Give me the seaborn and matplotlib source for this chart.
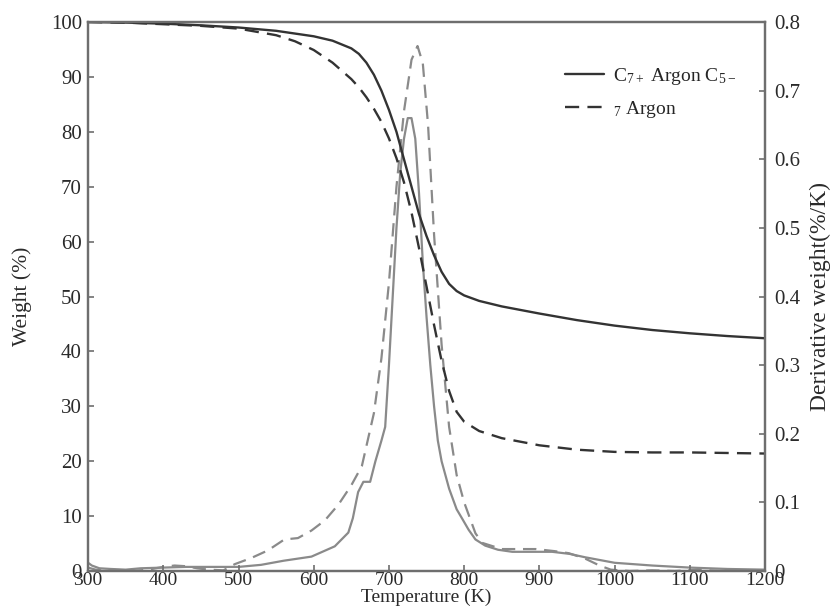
import numpy as np
import pandas as pd
import matplotlib
matplotlib.use("Agg")
import matplotlib.pyplot as plt
import seaborn as sns

# ---------------- data ----------------
temp_tga = [300, 350, 400, 450, 500, 550, 575, 600, 625, 650, 660, 670, 680, 690, 700,
            710, 720, 730, 740, 750, 760, 770, 780, 790, 800, 820, 850, 900, 950,
            1000, 1050, 1100, 1150, 1200]
weight_c7 = [100, 99.9, 99.7, 99.4, 99.0, 98.4, 97.9, 97.4, 96.6, 95.2, 94.2, 92.6, 90.4, 87.5, 84.0,
             80.0, 75.0, 70.0, 65.0, 61.0, 57.5, 54.5, 52.3, 51.0, 50.2, 49.2, 48.2, 46.9, 45.7,
             44.7, 43.9, 43.3, 42.8, 42.4]
weight_c5 = [100, 99.9, 99.6, 99.3, 98.8, 97.6, 96.5, 94.9, 92.6, 89.6, 88.1, 86.3, 84.2, 81.8, 78.8,
             75.2, 70.8, 65.3, 58.8, 51.8, 44.8, 38.3, 32.8, 29.0, 27.2, 25.5, 24.2, 22.9, 22.1,
             21.7, 21.6, 21.6, 21.5, 21.4]

temp_dtg_c7 = [300, 305, 315, 330, 350, 370, 400, 430, 460, 500, 530, 560, 597, 628, 646, 652,
               659, 666, 675, 682, 690, 695, 700, 705, 710, 715, 720, 725, 730, 735, 740,
               745, 750, 755, 760, 765, 770, 780, 790, 797, 806, 815, 828, 845, 864, 890, 917,
               940, 961, 1000, 1050, 1100, 1150, 1200]
dtg_c7 = [0.012, 0.008, 0.004, 0.003, 0.002, 0.004, 0.005, 0.006, 0.006, 0.006, 0.009, 0.015, 0.021,
          0.036, 0.056, 0.077, 0.115, 0.13, 0.13, 0.16, 0.19, 0.21, 0.30, 0.40, 0.50, 0.58, 0.63,
          0.66, 0.66, 0.63, 0.55, 0.45, 0.37, 0.30, 0.24, 0.19, 0.16, 0.12, 0.09, 0.077, 0.06,
          0.046, 0.037, 0.031, 0.028, 0.028, 0.028, 0.025, 0.02, 0.012, 0.008, 0.005, 0.003, 0.002]

temp_dtg_c5 = [300, 310, 325, 340, 360, 380, 400, 415, 430, 445, 460, 480, 495, 517, 539, 561, 579,
               597, 615, 633, 650, 664, 680, 690, 700, 710, 720, 730, 738, 745, 752, 760,
               770, 780, 790, 800, 806, 815, 824, 850, 875, 895, 920, 939, 961, 980, 995,
               1020, 1050, 1080, 1110, 1140, 1170, 1200]
dtg_c5 = [0.005, 0.002, 0.0, 0.001, 0.0, 0.002, 0.006, 0.008, 0.007, 0.004, 0.002, 0.001, 0.01,
          0.019, 0.03, 0.046, 0.048, 0.059, 0.074, 0.097, 0.125, 0.153, 0.23, 0.31, 0.42, 0.56,
          0.67, 0.745, 0.765, 0.74, 0.65, 0.49, 0.33, 0.21, 0.14, 0.10, 0.082, 0.055, 0.041,
          0.032, 0.032, 0.032, 0.029, 0.026, 0.018, 0.008, 0.002, 0.0, 0.001, 0.0, 0.002, 0.0,
          0.001, 0.0]

legend_labels = [r"C$_{7+}$ Argon C$_{5-}$", r"$_{7}$ Argon"]
x_ticks = [300, 400, 500, 600, 700, 800, 900, 1000, 1100, 1200]
left_ticks = [0, 10, 20, 30, 40, 50, 60, 70, 80, 90, 100]
right_ticks = [0, 0.1, 0.2, 0.3, 0.4, 0.5, 0.6, 0.7, 0.8]
right_ticklabels = ["0", "0.1", "0.2", "0.3", "0.4", "0.5", "0.6", "0.7", "0.8"]

# ---------------- style ----------------
sns.set_style("ticks")
plt.rcParams["font.family"] = ["Liberation Serif", "DejaVu Serif"]
plt.rcParams["mathtext.fontset"] = "custom"
plt.rcParams["mathtext.rm"] = "Liberation Serif"
plt.rcParams["mathtext.it"] = "Liberation Serif"

dark = "#333333"
gray = "#8a8a8a"
spine_c = "#6e6e6e"
text_c = "#2a2a2a"

fig = plt.figure(figsize=(8.31, 6.10), dpi=100)
ax = fig.add_axes([0.106, 0.0639, 0.8146, 0.9])
ax2 = ax.twinx()

df_c7 = pd.DataFrame({"T": temp_dtg_c7, "d": dtg_c7})
df_c5 = pd.DataFrame({"T": temp_dtg_c5, "d": dtg_c5})
sns.lineplot(data=df_c7, x="T", y="d", ax=ax2, color=gray, lw=1.6)
sns.lineplot(data=df_c5, x="T", y="d", ax=ax2, color=gray, lw=1.6, linestyle=(0, (6, 3.5)))

dft = pd.DataFrame({"T": temp_tga, "a": weight_c7, "b": weight_c5})
sns.lineplot(data=dft, x="T", y="a", ax=ax, color=dark, lw=1.7, label=legend_labels[0])
sns.lineplot(data=dft, x="T", y="b", ax=ax, color=dark, lw=1.7, linestyle=(0, (6, 3.5)),
             label=legend_labels[1])

ax.set_zorder(ax2.get_zorder() + 1)
ax.patch.set_visible(False)

ax.set_xlim(300, 1200)
ax.set_ylim(0, 100)
ax2.set_ylim(0, 0.8)
ax.set_xticks(x_ticks)
ax.set_yticks(left_ticks)
ax2.set_yticks(right_ticks)
ax2.set_yticklabels(right_ticklabels)

ax.set_xlabel("Temperature (K)", fontsize=14, color=text_c, labelpad=-0.5)
ax.set_ylabel("Weight (%)", fontsize=15.5, color=text_c)
ax2.set_ylabel("Derivative weight(%/K)", fontsize=17, color=text_c)
ax.yaxis.set_label_coords(-0.0835, 0.5)
ax2.yaxis.set_label_coords(1.0657, 0.5)

for a in (ax, ax2):
    for s in a.spines.values():
        s.set_color(spine_c)
        s.set_linewidth(1.6)
        s.set_visible(True)
    a.tick_params(direction="in", length=4.5, width=1.2, color=spine_c,
                  labelsize=15, labelcolor=text_c)
ax.tick_params(axis="x", pad=1.0, labelsize=14)
ax.tick_params(axis="y", pad=4.5)
ax2.tick_params(axis="y", pad=7)

leg = ax.legend(loc="upper left", bbox_to_anchor=(0.679, 0.952), frameon=False,
                fontsize=14, handlelength=2.0, handletextpad=0.45, labelspacing=0.6)

fig.savefig("out.png", dpi=100)
